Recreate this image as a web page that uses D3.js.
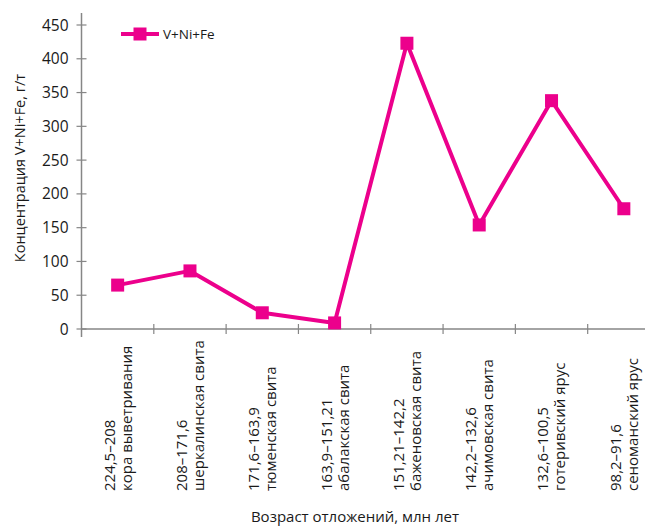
<!DOCTYPE html>
<html>
<head>
<meta charset="utf-8">
<script src="https://cdn.jsdelivr.net/npm/d3@7"></script>
<style>
  html, body { margin: 0; padding: 0; background: #fff; }
  svg { display: block; font-family: "Open Sans", "Liberation Sans", sans-serif; }
</style>
</head>
<body>
<svg id="chart" width="645" height="526"></svg>
<script>
// Age ranges (Ma) and stratigraphic units
const ageRanges = ["224,5–208", "208–171,6", "171,6–163,9", "163,9–151,21",
                   "151,21–142,2", "142,2–132,6", "132,6–100,5", "98,2–91,6"];
const units = ["кора выветривания", "шеркалинская свита", "тюменская свита", "абалакская свита",
               "баженовская свита", "ачимовская свита", "готеривский ярус", "сеноманский ярус"];
// V+Ni+Fe concentration, g/t
const concentration = [65, 86, 24, 9, 423, 154, 338, 178];
const yTicks = [0, 50, 100, 150, 200, 250, 300, 350, 400, 450];
const seriesName = "V+Ni+Fe";

const color = "#EC008C";
const axisColor = "#868686";
const svg = d3.select("#chart");

const x = d3.scaleBand().domain(d3.range(ageRanges.length)).range([81.5, 660]).padding(0);
const y = d3.scaleLinear().domain([0, 450]).range([329, 25]);

// Y axis
const yAxis = svg.append("g").attr("transform", "translate(81.5,0)");
yAxis.append("line").attr("x1", 0).attr("x2", 0).attr("y1", 13).attr("y2", 337)
  .attr("stroke", axisColor).attr("stroke-width", 1.5);
yAxis.selectAll("line.tick").data(yTicks).enter().append("line")
  .attr("class", "tick")
  .attr("x1", -5).attr("x2", 5)
  .attr("y1", d => y(d)).attr("y2", d => y(d))
  .attr("stroke", axisColor).attr("stroke-width", 1.2);
yAxis.selectAll("text").data(yTicks).enter().append("text")
  .attr("x", -13).attr("y", d => y(d)).attr("dy", "0.36em")
  .attr("text-anchor", "end").attr("font-size", 15.5).attr("fill", "#1a1a1a")
  .text(d => d);

// X axis
const xAxis = svg.append("g");
xAxis.append("line").attr("x1", 81.5).attr("x2", 660).attr("y1", 329).attr("y2", 329)
  .attr("stroke", axisColor).attr("stroke-width", 1.5);
const bounds = d3.range(1, ageRanges.length + 1).map(i => x.range()[0] + i * x.bandwidth());
xAxis.selectAll("line.tick").data(bounds).enter().append("line")
  .attr("class", "tick")
  .attr("x1", d => d).attr("x2", d => d).attr("y1", 324).attr("y2", 334)
  .attr("stroke", axisColor).attr("stroke-width", 1.2);

// Rotated two-line category labels
const labels = xAxis.selectAll("g.lab").data(ageRanges).enter().append("g")
  .attr("class", "lab")
  .attr("transform", (d, i) => `translate(${x(i) + x.bandwidth() / 2},491) rotate(-90)`);
labels.append("text").attr("x", 0).attr("y", -8.5).attr("dy", "0.36em")
  .attr("font-size", 15).attr("fill", "#1a1a1a").text(d => d);
labels.append("text").attr("x", 0).attr("y", 8.5).attr("dy", "0.36em")
  .attr("font-size", 15).attr("fill", "#1a1a1a").text((d, i) => units[i]);

// Axis titles
svg.append("text").attr("x", 355).attr("y", 522).attr("text-anchor", "middle")
  .attr("font-size", 15).attr("fill", "#1a1a1a").text("Возраст отложений, млн лет");
svg.append("text").attr("transform", "translate(20,168) rotate(-90)")
  .attr("text-anchor", "middle").attr("dy", "0.36em")
  .attr("font-size", 14.5).attr("fill", "#1a1a1a").text("Концентрация V+Ni+Fe, г/т");

// Series line and markers
const line = d3.line().x((d, i) => x(i) + x.bandwidth() / 2).y(d => y(d));
svg.append("path").datum(concentration).attr("d", line)
  .attr("fill", "none").attr("stroke", color).attr("stroke-width", 4)
  .attr("stroke-linejoin", "round");
const ms = 13;
svg.selectAll("rect.marker").data(concentration).enter().append("rect")
  .attr("class", "marker")
  .attr("x", (d, i) => x(i) + x.bandwidth() / 2 - ms / 2)
  .attr("y", d => y(d) - ms / 2)
  .attr("width", ms).attr("height", ms).attr("fill", color);

// Legend
const lg = svg.append("g").attr("transform", "translate(121,34)");
lg.append("line").attr("x1", 0).attr("x2", 38).attr("y1", 0).attr("y2", 0)
  .attr("stroke", color).attr("stroke-width", 4);
lg.append("rect").attr("x", 19 - 6.5).attr("y", -6.5).attr("width", 13).attr("height", 13).attr("fill", color);
lg.append("text").attr("x", 42).attr("y", 0).attr("dy", "0.36em")
  .attr("font-size", 13.5).attr("fill", "#1a1a1a").text(seriesName);
</script>
</body>
</html>
